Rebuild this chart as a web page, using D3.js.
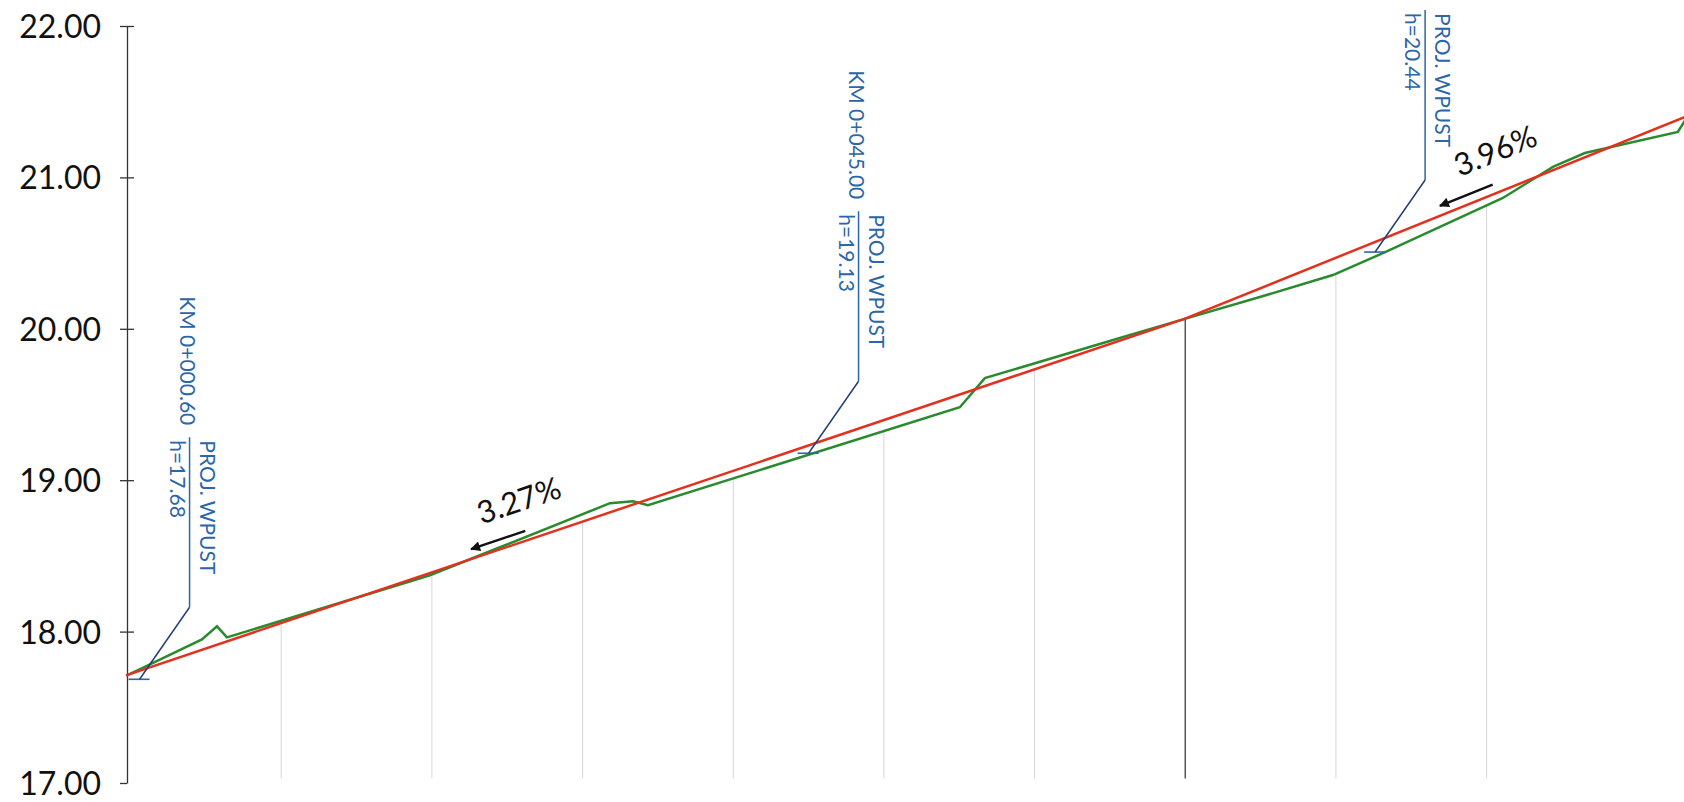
<!DOCTYPE html>
<html>
<head>
<meta charset="utf-8">
<script src="https://cdn.jsdelivr.net/npm/d3@7"></script>
<style>
body { margin: 0; background: #fff; }
svg { display: block; font-family: Lato, "Open Sans", sans-serif; }
</style>
</head>
<body>
<svg id="chart"></svg>
<script>
// niweleta projektowana (stacja m, rzedna m)
let designStations = [-0.3, 69.9, 103.2];
let designLevels = [17.711, 20.064, 21.40];

// teren istniejacy
let groundStations = [-0.23, 4.74, 5.74, 6.40, 19.87, 24.52, 31.82, 33.35, 34.34, 55.04, 56.70, 65.66, 69.91, 74.95, 79.80, 83.12, 91.08, 94.40, 96.52, 102.69, 103.5];
let groundLevels = [17.711, 17.949, 18.035, 17.962, 18.372, 18.557, 18.848, 18.861, 18.835, 19.482, 19.674, 19.939, 20.064, 20.21, 20.355, 20.50, 20.864, 21.069, 21.161, 21.30, 21.43];

let gridStations = [10, 20, 30, 40, 50, 60, 70, 80, 90];
let breakStation = 70;

let yTicks = [17, 18, 19, 20, 21, 22];

// wpusty
let inletStations = [0.6, 45, 82.6];
let inletLevels = [17.685, 19.178, 20.507];
let inletKm = ["KM 0+000.60", "KM 0+045.00", null];
let inletH = ["h=17.68", "h=19.13", "h=20.44"];
let inletName = "PROJ. WPUST";

// spadki
let slopeText = ["3.27%", "3.96%"];
let slopeFrom = [26.2, 90.4];
let slopeTo = [22.6, 86.9];
let slopeTextAt = [23.3, 88.2];

let width = 1684;
let height = 802;

let svg = d3.select("#chart")
    .attr("width", width)
    .attr("height", height);

let scaleX = d3.scaleLinear()
    .domain([-0.3, 103.1])
    .range([126, 1684]);

let scaleY = d3.scaleLinear()
    .domain([17, 22])
    .range([783, 26]);

function levelAt(st, lv, s) {
    let i = d3.bisectRight(st, s);
    i = Math.max(1, Math.min(st.length - 1, i));
    let t = (s - st[i - 1]) / (st[i] - st[i - 1]);
    return lv[i - 1] + t * (lv[i] - lv[i - 1]);
}

// linie siatki
svg.append("g")
    .selectAll("line")
    .data(gridStations)
    .join("line")
    .attr("x1", d => scaleX(d))
    .attr("x2", d => scaleX(d))
    .attr("y1", d => Math.max(scaleY(levelAt(designStations, designLevels, d)),
                              scaleY(levelAt(groundStations, groundLevels, d))))
    .attr("y2", scaleY(17.03))
    .attr("stroke", d => d === breakStation ? "#555" : "#d6d6d6")
    .attr("stroke-width", d => d === breakStation ? 1.5 : 1);

// os Y
let axisY = d3.axisLeft(scaleY)
    .tickValues(yTicks)
    .tickFormat(d3.format(".2f"))
    .tickSize(7)
    .tickSizeOuter(0)
    .tickPadding(19);

let gY = svg.append("g")
    .attr("transform", "translate(127,0)")
    .call(axisY)
    .attr("font-family", "Lato, 'Open Sans', sans-serif")
    .attr("font-size", 32);

gY.select(".domain").attr("stroke", "#333").attr("stroke-width", 1.3);
gY.selectAll(".tick line").attr("stroke", "#333").attr("stroke-width", 1.3);
gY.selectAll(".tick")
    .filter(d => d !== 17)
    .append("line")
    .attr("x2", 7)
    .attr("stroke", "#333")
    .attr("stroke-width", 1.3);
gY.selectAll(".tick text").attr("fill", "#111").attr("dy", "0.36em");

// linie profilu
let line = d3.line()
    .x(d => scaleX(d[0]))
    .y(d => scaleY(d[1]));

svg.append("path")
    .datum(d3.zip(groundStations, groundLevels))
    .attr("d", line)
    .attr("fill", "none")
    .attr("stroke", "#2a8a2e")
    .attr("stroke-width", 2.5);

svg.append("path")
    .datum(d3.zip(designStations, designLevels))
    .attr("d", line)
    .attr("fill", "none")
    .attr("stroke", "#e2321f")
    .attr("stroke-width", 2.5);

// opisy wpustow
let blue = "#2b66a8";
inletStations.forEach(function(s, i) {
    let ax = scaleX(s);
    let ay = scaleY(inletLevels[i]);
    let lx = ax + 50;
    let yBottom = ay - 72;
    let yTop = ay - 242;
    let g = svg.append("g");

    g.append("line")
        .attr("x1", ax - 11).attr("x2", ax + 10)
        .attr("y1", ay).attr("y2", ay)
        .attr("stroke", blue).attr("stroke-width", 1.6);
    g.append("line")
        .attr("x1", ax).attr("y1", ay)
        .attr("x2", lx).attr("y2", yBottom)
        .attr("stroke", "#233f72").attr("stroke-width", 1.5);
    g.append("line")
        .attr("x1", lx).attr("x2", lx)
        .attr("y1", yBottom).attr("y2", yTop)
        .attr("stroke", blue).attr("stroke-width", 1.5);

    g.append("text")
        .attr("transform", `translate(${lx + 10}, ${yTop + 3}) rotate(90)`)
        .attr("font-size", 21)
        .attr("fill", blue)
        .text(inletName);
    g.append("text")
        .attr("transform", `translate(${lx - 20}, ${yTop + 3}) rotate(90)`)
        .attr("font-size", 21)
        .attr("fill", blue)
        .text(inletH[i]);
    if (inletKm[i]) {
        g.append("text")
            .attr("transform", `translate(${lx - 10}, ${yTop - 12}) rotate(90)`)
            .attr("text-anchor", "end")
            .attr("font-size", 21)
            .attr("fill", blue)
            .text(inletKm[i]);
    }
});

// strzalki spadkow
svg.append("defs")
    .append("marker")
    .attr("id", "arrow")
    .attr("viewBox", "0 0 10 10")
    .attr("refX", 9)
    .attr("refY", 5)
    .attr("markerUnits", "userSpaceOnUse")
    .attr("markerWidth", 17)
    .attr("markerHeight", 10)
    .attr("orient", "auto")
    .append("path")
    .attr("d", "M0,0L10,5L0,10z")
    .attr("fill", "#111");

slopeText.forEach(function(t, i) {
    let x1 = scaleX(slopeFrom[i]);
    let y1 = scaleY(levelAt(designStations, designLevels, slopeFrom[i])) - 10;
    let x2 = scaleX(slopeTo[i]);
    let y2 = scaleY(levelAt(designStations, designLevels, slopeTo[i])) - 10;
    svg.append("line")
        .attr("x1", x1).attr("y1", y1)
        .attr("x2", x2).attr("y2", y2)
        .attr("stroke", "#111")
        .attr("stroke-width", 2.5)
        .attr("marker-end", "url(#arrow)");

    let angle = Math.atan2(y1 - y2, x1 - x2) * 180 / Math.PI;
    let tx = scaleX(slopeTextAt[i]);
    let ty = scaleY(levelAt(designStations, designLevels, slopeTextAt[i])) - 31;
    svg.append("text")
        .attr("transform", `translate(${tx}, ${ty}) rotate(${angle})`)
        .attr("font-size", 31)
        .attr("fill", "#111")
        .text(t);
});
</script>
</body>
</html>
